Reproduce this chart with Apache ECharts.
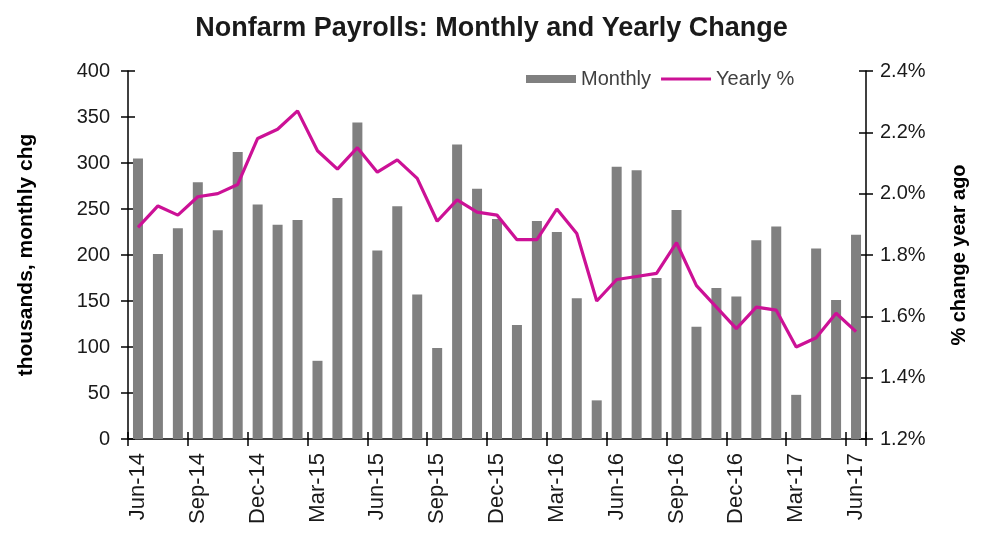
<!DOCTYPE html>
<html>
<head>
<meta charset="utf-8">
<script src="https://cdn.jsdelivr.net/npm/echarts@6/dist/echarts.min.js"></script>
<style>
html,body{margin:0;padding:0;background:#fff;}
#chart{width:983px;height:546px;}
</style>
</head>
<body>
<div id="chart"></div>
<script>
var months = ["Jun-14","Jul-14","Aug-14","Sep-14","Oct-14","Nov-14","Dec-14","Jan-15","Feb-15","Mar-15","Apr-15","May-15",
"Jun-15","Jul-15","Aug-15","Sep-15","Oct-15","Nov-15","Dec-15","Jan-16","Feb-16","Mar-16","Apr-16","May-16",
"Jun-16","Jul-16","Aug-16","Sep-16","Oct-16","Nov-16","Dec-16","Jan-17","Feb-17","Mar-17","Apr-17","May-17","Jun-17"];
var monthly = [305,201,229,279,227,312,255,233,238,85,262,344,
205,253,157,99,320,272,239,124,237,225,153,42,
296,292,175,249,122,164,155,216,231,48,207,151,222];
var yearly = [1.89,1.96,1.93,1.99,2.00,2.03,2.18,2.21,2.27,2.14,2.08,2.15,
2.07,2.11,2.05,1.91,1.98,1.94,1.93,1.85,1.85,1.95,1.87,1.65,
1.72,1.73,1.74,1.84,1.70,1.63,1.56,1.63,1.62,1.50,1.53,1.61,1.55];

var font = "Liberation Sans, Arial, sans-serif";
var chart = echarts.init(document.getElementById('chart'), null, {renderer:'canvas'});
var axisLine = {show:true, lineStyle:{color:'#000', width:1.5}};
var tickStyle = {color:'#000', width:1.5};
chart.setOption({
  animation:false,
  backgroundColor:'#fff',
  title:{text:'Nonfarm Payrolls: Monthly and Yearly Change', left:'center', top:10,
    textStyle:{fontFamily:font, fontSize:27, fontWeight:'bold', color:'#1a1a1a'}},
  legend:{left:521, top:64, itemGap:10, itemWidth:50, itemHeight:8,
    textStyle:{fontFamily:font, fontSize:20, color:'#404040'},
    data:[{name:'Monthly', icon:'rect'},
          {name:'Yearly %', icon:'path://M0,0 L50,0 L50,3 L0,3 Z', itemStyle:{color:'#cc1196'}}]},
  grid:{left:128, right:117, top:71, bottom:107, containLabel:false},
  xAxis:[{type:'category', data:months, boundaryGap:true,
    axisLine:axisLine,
    axisTick:{show:true, interval:2, length:7, lineStyle:tickStyle},
    axisLabel:{interval:2, rotate:90, margin:14, fontFamily:font, fontSize:22, color:'#1a1a1a'}},
    {type:'category', data:months, position:'bottom', boundaryGap:true,
    axisLine:{show:false}, axisLabel:{show:false},
    axisTick:{show:true, inside:true, interval:2, length:7, lineStyle:tickStyle}}],
  yAxis:[
    {type:'value', min:0, max:400, interval:50, position:'left',
     name:'thousands, monthly chg', nameLocation:'middle', nameGap:91, nameRotate:90,
     nameTextStyle:{fontFamily:font, fontSize:21, fontWeight:'bold', color:'#000'},
     axisLine:axisLine, splitLine:{show:false},
     axisTick:{show:true, length:7, lineStyle:tickStyle},
     axisLabel:{margin:18, fontFamily:font, fontSize:20, color:'#1a1a1a'}},
    {type:'value', min:1.2, max:2.4, interval:0.2, position:'right',
     name:'% change year ago', nameLocation:'middle', nameGap:83, nameRotate:90,
     nameTextStyle:{fontFamily:font, fontSize:20, fontWeight:'bold', color:'#000'},
     axisLine:axisLine, splitLine:{show:false},
     axisTick:{show:true, inside:true, length:7, lineStyle:tickStyle},
     axisLabel:{margin:14, fontFamily:font, fontSize:20, color:'#1a1a1a',
       formatter:function(v){return v.toFixed(1)+'%';}}},
    {type:'value', min:0, max:400, interval:50, position:'left',
     axisLine:{show:false}, splitLine:{show:false}, axisLabel:{show:false},
     axisTick:{show:true, inside:true, length:7, lineStyle:tickStyle}},
    {type:'value', min:1.2, max:2.4, interval:0.2, position:'right',
     axisLine:{show:false}, splitLine:{show:false}, axisLabel:{show:false},
     axisTick:{show:true, inside:false, length:7, lineStyle:tickStyle}}
  ],
  series:[
    {name:'Monthly', type:'bar', data:monthly, yAxisIndex:0, barWidth:10,
     itemStyle:{color:'#808080'}},
    {name:'Yearly %', type:'line', data:yearly, yAxisIndex:1, symbol:'none',
     lineStyle:{color:'#cc1196', width:3.2}, itemStyle:{color:'#cc1196'}}
  ]
});
</script>
</body>
</html>
